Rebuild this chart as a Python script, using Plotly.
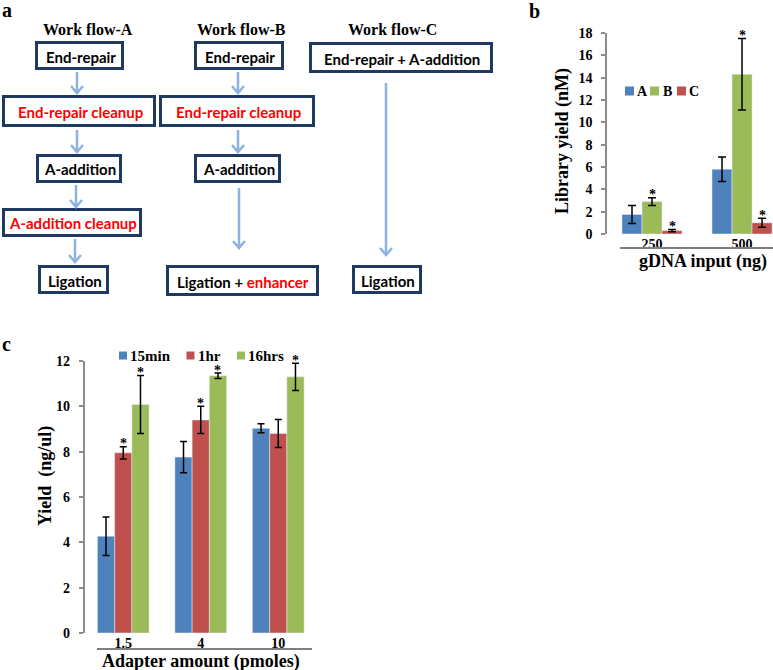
import plotly.graph_objects as go

W, H = 773, 670

# ---------------- data: panel b ----------------
b_categories = ["250", "500"]
b_series = ["A", "B", "C"]
b_A = [1.75, 5.8]
b_B = [2.9, 14.3]
b_C = [0.3, 1.0]
b_A_err = [0.8, 1.1]
b_B_err = [0.35, 3.2]
b_C_err = [0.1, 0.4]
b_A_sig = [False, False]
b_B_sig = [True, True]
b_C_sig = [True, True]

# ---------------- data: panel c ----------------
c_categories = ["1.5", "4", "10"]
c_series = ["15min", "1hr", "16hrs"]
c_15min = [4.27, 7.76, 9.03]
c_1hr = [7.95, 9.40, 8.80]
c_16hrs = [10.08, 11.35, 11.30]
c_15min_err = [0.85, 0.69, 0.20]
c_1hr_err = [0.27, 0.60, 0.62]
c_16hrs_err = [1.28, 0.12, 0.60]
c_15min_sig = [False, False, False]
c_1hr_sig = [True, True, False]
c_16hrs_sig = [True, True, True]

# ---------------- text: panel a ----------------
workflow_titles = ["Work flow-A", "Work flow-B", "Work flow-C"]
wf_A_steps = ["End-repair", "End-repair cleanup", "A-addition", "A-addition cleanup", "Ligation"]
wf_A_red = [False, True, False, True, False]
wf_B_steps = ["End-repair", "End-repair cleanup", "A-addition", "Ligation + <span style='color:#FF0000'>enhancer</span>"]
wf_B_red = [False, True, False, False]
wf_C_steps = ["End-repair + A-addition", "Ligation"]
wf_C_red = [False, False]

BLUE, RED, GREEN = "#4F81BD", "#C0504D", "#9BBB59"
b_colors = [BLUE, GREEN, RED]
c_colors = [BLUE, RED, GREEN]
SERIF = "Liberation Serif"
SANS = "Lato"
AXIS_GREY = "#8c8c8c"


def X(px):
    return px / W


def Y(py):
    return 1 - py / H


fig = go.Figure()

# ---------------- bars ----------------
b_vals = [b_A, b_B, b_C]
b_errs = [b_A_err, b_B_err, b_C_err]
b_sigs = [b_A_sig, b_B_sig, b_C_sig]
for name, vals, errs, col in zip(b_series, b_vals, b_errs, b_colors):
    fig.add_trace(go.Bar(
        x=b_categories, y=vals, name=name, marker_color=col,
        error_y=dict(type="data", array=errs, color="black", thickness=1.5, width=4),
        xaxis="x", yaxis="y", showlegend=False))

c_vals = [c_15min, c_1hr, c_16hrs]
c_errs = [c_15min_err, c_1hr_err, c_16hrs_err]
c_sigs = [c_15min_sig, c_1hr_sig, c_16hrs_sig]
for name, vals, errs, col in zip(c_series, c_vals, c_errs, c_colors):
    fig.add_trace(go.Bar(
        x=c_categories, y=vals, name=name, marker_color=col,
        error_y=dict(type="data", array=errs, color="black", thickness=1.5, width=3.5),
        xaxis="x2", yaxis="y2", showlegend=False))

BARGAP = 0.333
bw = (1 - BARGAP) / 3

annotations = []
shapes = []


def note(px, py, text, size, family=SERIF, color="black", xanchor="center", angle=0):
    annotations.append(dict(x=X(px), y=Y(py), xref="paper", yref="paper", text=text,
                            showarrow=False, xanchor=xanchor, yanchor="middle", textangle=angle,
                            font=dict(family=family, size=size, color=color, weight="bold")))


# significance stars
for xr, yr, vals_l, errs_l, sigs_l in [("x", "y", b_vals, b_errs, b_sigs),
                                        ("x2", "y2", c_vals, c_errs, c_sigs)]:
    for i, (vals, errs, sigs) in enumerate(zip(vals_l, errs_l, sigs_l)):
        for j, (v, e, s) in enumerate(zip(vals, errs, sigs)):
            if s:
                annotations.append(dict(
                    x=j + (i - 1) * bw, y=v + e, xref=xr, yref=yr, text="*",
                    showarrow=False, xanchor="center", yanchor="middle", yshift=3,
                    font=dict(family=SERIF, size=14, color="black", weight="bold")))


# ---------------- manual legends ----------------
def legend(items, cols, sq_x, txt_x, yc, size, sq=9):
    for name, col, sx, tx in zip(items, cols, sq_x, txt_x):
        shapes.append(dict(type="rect", xref="paper", yref="paper",
                           x0=X(sx), x1=X(sx + sq), y0=Y(yc + sq / 2), y1=Y(yc - sq / 2),
                           fillcolor=col, line=dict(width=0)))
        note(tx, yc, name, size, xanchor="left")


legend(b_series, b_colors, [625, 650, 677], [635, 661, 687], 91, 14)
legend(c_series, c_colors, [119, 186.5, 237], [128, 196, 246], 355.5, 15, sq=8)

# ---------------- axis titles ----------------
note(562, 141, "Library yield (nM)", 18, angle=-90)
note(703, 262, "gDNA input (ng)", 18)
note(45, 476, "Yield  (ng/ul)", 18, angle=-90)
note(201, 661, "Adapter amount (pmoles)", 18)

# grey category separator lines under tick labels
shapes.append(dict(type="line", xref="paper", yref="paper", x0=X(620), x1=X(773), y0=Y(248), y1=Y(248),
                   line=dict(color="#7f7f7f", width=2)))
shapes.append(dict(type="line", xref="paper", yref="paper", x0=X(97), x1=X(312), y0=Y(649), y1=Y(649),
                   line=dict(color="#7f7f7f", width=2)))

# panel letters
for letter, lx, ly in [("a", 0, 10), ("b", 527, 11), ("c", 0, 344)]:
    note(lx, ly, letter, 20, xanchor="left")

# ---------------- panel a: flow diagram ----------------
NAVY = "#1f3a60"
ARROW = "#8db3e2"

for title, cx in zip(workflow_titles, [88, 241, 392]):
    note(cx, 29, title, 16)

boxes_A = [(35, 41, 124, 70), (2, 95, 156, 127), (36, 154, 122, 183), (2, 208, 142, 237), (38, 265, 109, 294)]
boxes_B = [(194, 41, 284, 70), (159, 95, 315, 127), (194, 154, 281, 183), (166, 265, 319, 296)]
boxes_C = [(309, 42, 493, 73), (352, 265, 422, 294)]

for steps, reds, boxes in [(wf_A_steps, wf_A_red, boxes_A), (wf_B_steps, wf_B_red, boxes_B),
                           (wf_C_steps, wf_C_red, boxes_C)]:
    for txt, red, (x0, y0, x1, y1) in zip(steps, reds, boxes):
        shapes.append(dict(type="rect", xref="paper", yref="paper",
                           x0=X(x0 + 1.5), x1=X(x1 - 1.5), y0=Y(y1 - 1.5), y1=Y(y0 + 1.5),
                           fillcolor="white", line=dict(color=NAVY, width=3)))
        note((x0 + x1) / 2 + 1, (y0 + y1) / 2 + 1, txt, 15, family=SANS,
             color="#FF0000" if red else "black")

arrows = [(77, 72, 93), (77, 130, 152), (76, 185, 207), (75, 239, 262),
          (238, 72, 93), (238, 130, 152), (239, 188, 248),
          (386, 83, 255)]
for ax_, y0, y1 in arrows:
    path = (f"M {X(ax_)} {Y(y0)} L {X(ax_)} {Y(y1)} "
            f"M {X(ax_ - 6)} {Y(y1 - 7)} L {X(ax_)} {Y(y1)} L {X(ax_ + 6)} {Y(y1 - 7)}")
    shapes.append(dict(type="path", xref="paper", yref="paper", path=path,
                       line=dict(color=ARROW, width=2.5)))

tickfont = dict(family=SERIF, size=14, color="black", weight="bold")

fig.update_layout(
    width=W, height=H, margin=dict(l=0, r=0, t=0, b=0, autoexpand=False),
    paper_bgcolor="white", plot_bgcolor="rgba(0,0,0,0)",
    barmode="group", bargap=BARGAP, bargroupgap=0,
    showlegend=False,
    xaxis=dict(domain=[X(607), 1], range=[-0.5, 1.344], type="category", anchor="y", automargin=False,
               showline=False, ticks="", showgrid=False, zeroline=False, tickfont=tickfont),
    yaxis=dict(domain=[Y(234), Y(33)], range=[0, 18], dtick=2, anchor="x", automargin=False,
               showline=True, linecolor=AXIS_GREY, linewidth=1.5, ticks="outside", ticklen=4,
               tickcolor=AXIS_GREY, tickwidth=1.5, showgrid=False, zeroline=False, tickfont=tickfont,
               ticklabelstandoff=6),
    xaxis2=dict(domain=[X(84.5), X(317)], range=[-0.5, 2.5], type="category", anchor="y2", automargin=False,
                showline=False, ticks="", showgrid=False, zeroline=False, tickfont=tickfont),
    yaxis2=dict(domain=[Y(633), Y(361)], range=[0, 12], dtick=2, anchor="x2", automargin=False,
                showline=True, linecolor=AXIS_GREY, linewidth=1.5, ticks="outside", ticklen=4,
                tickcolor=AXIS_GREY, tickwidth=1.5, showgrid=False, zeroline=False, tickfont=tickfont,
                ticklabelstandoff=6),
    annotations=annotations,
    shapes=shapes,
)

fig.write_html("out.html", config={"displayModeBar": False},
               post_script="document.body.style.margin='0';document.body.style.overflow='hidden';")
